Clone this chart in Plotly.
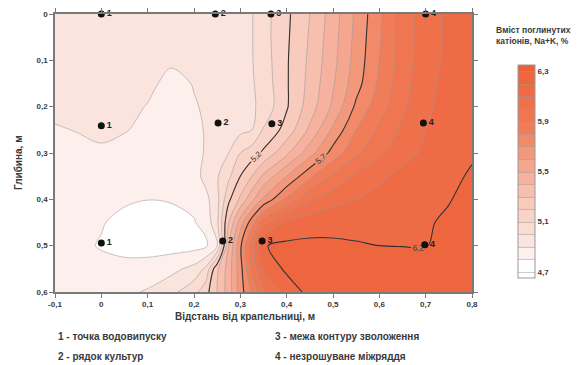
import plotly.graph_objects as go

# ---- grid (distance from dripper, m) and depth (m) ----
x_dist = [-0.1, -0.05, 0, 0.05, 0.1, 0.15, 0.2, 0.225, 0.25, 0.275, 0.3, 0.325,
          0.35, 0.4, 0.45, 0.5, 0.55, 0.6, 0.65, 0.7, 0.75, 0.8]
y_depth = [0, 0.05, 0.1, 0.15, 0.2, 0.25, 0.3, 0.35, 0.4, 0.45, 0.5, 0.55, 0.6]

# exchangeable cations Na+K, %
z_00 = [4.95, 4.95, 4.96, 4.95, 4.94, 4.93, 4.94, 4.95, 4.96, 4.97, 4.98, 4.995, 5.06, 5.18, 5.30, 5.45, 5.62, 5.78, 5.95, 6.05, 6.12, 6.16]
z_05 = [4.95, 4.95, 4.96, 4.95, 4.94, 4.93, 4.935, 4.945, 4.955, 4.965, 4.978, 4.995, 5.06, 5.185, 5.31, 5.46, 5.63, 5.79, 5.95, 6.05, 6.12, 6.16]
z_10 = [4.95, 4.95, 4.95, 4.94, 4.93, 4.915, 4.92, 4.93, 4.945, 4.96, 4.975, 4.995, 5.05, 5.19, 5.32, 5.47, 5.64, 5.80, 5.95, 6.06, 6.12, 6.16]
z_15 = [4.95, 4.96, 4.96, 4.95, 4.925, 4.87, 4.905, 4.92, 4.94, 4.955, 4.97, 4.99, 5.04, 5.19, 5.33, 5.49, 5.66, 5.82, 5.96, 6.07, 6.13, 6.17]
z_20 = [4.93, 4.945, 4.95, 4.93, 4.895, 4.85, 4.893, 4.91, 4.93, 4.95, 4.965, 4.985, 5.03, 5.19, 5.35, 5.52, 5.72, 5.86, 5.98, 6.08, 6.14, 6.18]
z_25 = [4.89, 4.905, 4.92, 4.905, 4.88, 4.85, 4.88, 4.905, 4.93, 4.955, 4.975, 5.0, 5.11, 5.24, 5.42, 5.62, 5.80, 5.92, 6.02, 6.10, 6.15, 6.19]
z_30 = [4.86, 4.87, 4.885, 4.87, 4.85, 4.84, 4.86, 4.91, 4.95, 5.0, 5.1, 5.15, 5.22, 5.38, 5.56, 5.74, 5.88, 5.98, 6.06, 6.12, 6.16, 6.19]
z_35 = [4.85, 4.86, 4.86, 4.85, 4.84, 4.83, 4.86, 4.93, 4.99, 5.08, 5.2, 5.3, 5.42, 5.6, 5.78, 5.92, 6.02, 6.08, 6.13, 6.17, 6.18, 6.21]
z_40 = [4.85, 4.84, 4.83, 4.81, 4.801, 4.805, 4.82, 4.87, 4.97, 5.18, 5.32, 5.47, 5.62, 5.82, 5.98, 6.06, 6.1, 6.13, 6.15, 6.17, 6.195, 6.23]
z_45 = [4.84, 4.83, 4.805, 4.78, 4.77, 4.775, 4.795, 4.83, 4.98, 5.3, 5.55, 5.76, 5.96, 6.12, 6.17, 6.18, 6.18, 6.185, 6.19, 6.19, 6.215, 6.24]
z_50 = [4.83, 4.815, 4.795, 4.77, 4.76, 4.76, 4.765, 4.78, 4.9, 5.4, 5.68, 5.95, 6.195, 6.22, 6.215, 6.21, 6.205, 6.2, 6.197, 6.195, 6.23, 6.25]
z_55 = [4.82, 4.82, 4.82, 4.83, 4.84, 4.87, 4.93, 5.02, 5.28, 5.45, 5.66, 5.92, 6.12, 6.22, 6.25, 6.26, 6.27, 6.27, 6.27, 6.27, 6.28, 6.29]
z_60 = [4.84, 4.85, 4.86, 4.88, 4.91, 4.97, 5.07, 5.16, 5.3, 5.45, 5.65, 5.82, 5.98, 6.14, 6.23, 6.25, 6.27, 6.28, 6.28, 6.28, 6.29, 6.3]
z_rows = [z_00, z_05, z_10, z_15, z_20, z_25, z_30, z_35, z_40, z_45, z_50, z_55, z_60]

# sampling points
pt_x = [0, 0.246, 0.366, 0.7, 0, 0.252, 0.368, 0.695, 0, 0.262, 0.347, 0.698]
pt_y = [0, 0, 0, 0, 0.241, 0.235, 0.237, 0.235, 0.494, 0.49, 0.49, 0.498]
pt_lbl = ["1", "2", "3", "4", "1", "2", "3", "4", "1", "2", "3", "4"]

x_ticks = [-0.1, 0, 0.1, 0.2, 0.3, 0.4, 0.5, 0.6, 0.7, 0.8]
x_ticktext = ["-0,1", "0", "0,1", "0,2", "0,3", "0,4", "0,5", "0,6", "0,7", "0,8"]
y_ticks = [0, 0.1, 0.2, 0.3, 0.4, 0.5, 0.6]
y_ticktext = ["0", "0,1", "0,2", "0,3", "0,4", "0,5", "0,6"]
cb_ticks = [4.7, 5.1, 5.5, 5.9, 6.3]
cb_ticktext = ["4,7", "5,1", "5,5", "5,9", "6,3"]

legend_lines = ["1 - точка водовипуску", "2 - рядок культур",
                "3 - межа контуру зволоження", "4 - незрошуване міжряддя"]

FONT = "Liberation Sans"
TXT = "#3a3a3a"

# colour stops in data units (4.65 .. 6.35)
lo, hi = 4.65, 6.35
stops = [(4.65, "#ffffff"), (4.76, "#ffffff"), (4.85, "#fdefeb"), (4.95, "#fbe4de"),
         (5.25, "#f8cbbd"), (5.55, "#f5a68e"), (5.85, "#f17c58"), (6.35, "#ec6038")]
cscale = [[(v - lo) / (hi - lo), c] for v, c in stops]

fig = go.Figure()
fig.add_trace(go.Contour(
    x=x_dist, y=y_depth, z=z_rows,
    colorscale=cscale,
    contours=dict(start=4.7, end=6.3, size=0.1, coloring="fill"),
    line=dict(color="rgba(150,150,150,0.6)", width=0.9, smoothing=1),
    colorbar=dict(
        x=1.0863, xanchor="left", y=0.4335, yanchor="middle",
        thickness=17, lenmode="pixels", len=233,
        outlinecolor="#999", outlinewidth=1,
        tickvals=cb_ticks, ticktext=["<b>%s</b>" % t for t in cb_ticktext],
        tickfont=dict(family=FONT, size=8, color=TXT), ticks="",
    ),
    hoverinfo="skip",
))
fig.add_trace(go.Contour(
    x=x_dist, y=y_depth, z=z_rows,
    showscale=False,
    contours=dict(start=5.2, end=6.2, size=0.5, coloring="none", showlabels=True,
                  labelfont=dict(family=FONT, size=8, color="#333"),
                  labelformat=".1f"),
    line=dict(color="#3a3030", width=1.1, smoothing=1),
    hoverinfo="skip",
))
fig.add_trace(go.Scatter(
    x=pt_x, y=pt_y, text=["<b>%s</b>" % t for t in pt_lbl],
    mode="markers+text", textposition="middle right",
    marker=dict(color="#111", size=7),
    textfont=dict(family=FONT, size=9, color="#222"),
    cliponaxis=False, showlegend=False, hoverinfo="skip",
))

axis_common = dict(showgrid=False, zeroline=False, showline=True, linecolor="#7a7a7a",
                   linewidth=1.6, mirror="ticks", ticks="outside", ticklen=4,
                   tickcolor="#7a7a7a", tickwidth=1, automargin=False,
                   tickfont=dict(family=FONT, size=8, color=TXT))
fig.update_xaxes(range=[-0.1, 0.8], tickvals=x_ticks,
                 ticktext=["<b>%s</b>" % t for t in x_ticktext], **axis_common)
fig.update_yaxes(range=[0.6, 0], tickvals=y_ticks,
                 ticktext=["<b>%s</b>" % t for t in y_ticktext], **axis_common)

L, R, T, B = 55, 110, 14, 73
W, H = 582, 365
pw, ph = W - L - R, H - T - B


def px(xp):
    return (xp - L) / pw


def py(yp):
    return (H - B - yp) / ph


ann = [
    dict(x=px(245), y=py(317), text="<b>Відстань від крапельниці, м</b>", xanchor="center",
         yanchor="middle", font=dict(family=FONT, size=10, color=TXT)),
    dict(x=px(18), y=py(163), text="<b>Глибина, м</b>", textangle=-90, xanchor="center",
         yanchor="middle", font=dict(family=FONT, size=10, color=TXT)),
    dict(x=px(494), y=py(36), text="<b>Вміст поглинутих<br>катіонів, Na+K, %</b>", xanchor="left",
         yanchor="middle", align="left", font=dict(family=FONT, size=8.5, color=TXT)),
]
leg_pos = [(56, 337), (56, 356), (273, 337), (273, 356)]
for (lx, ly), t in zip(leg_pos, legend_lines):
    ann.append(dict(x=px(lx), y=py(ly), text="<b>%s</b>" % t, xanchor="left", yanchor="middle",
                    font=dict(family=FONT, size=10, color=TXT)))
for a in ann:
    a.update(xref="paper", yref="paper", showarrow=False)

fig.update_layout(
    width=W, height=H, margin=dict(l=L, r=R, t=T, b=B, autoexpand=False),
    paper_bgcolor="white", plot_bgcolor="white",
    separators=", ", showlegend=False, annotations=ann,
    font=dict(family=FONT, color=TXT),
)
fig.write_html("out.html", config={"displayModeBar": False},
               post_script="document.body.style.margin='0';document.body.style.padding='0';")
